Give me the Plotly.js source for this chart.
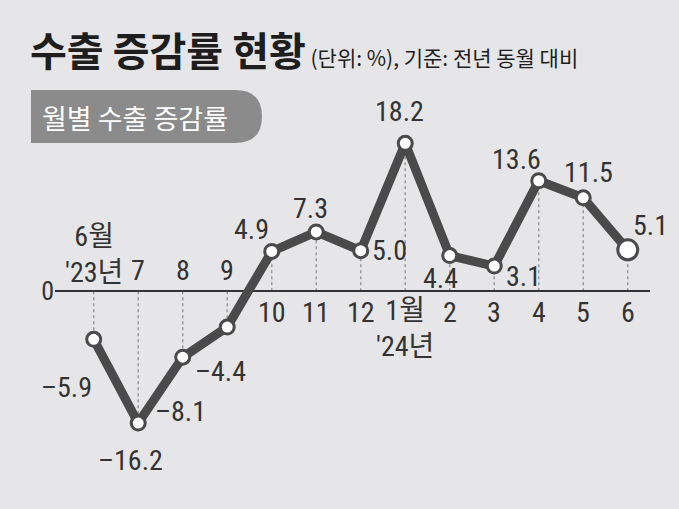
<!DOCTYPE html>
<html><head><meta charset="utf-8">
<script src="https://cdn.plot.ly/plotly-3.0.1.min.js"></script>
<style>html,body{margin:0;padding:0;background:#e6e6e8;}</style>
</head><body>
<div id="chart" style="width:679px;height:509px;"></div>
<script>
// ---- data ----
const months = ["6월", "7", "8", "9", "10", "11", "12", "1월", "2", "3", "4", "5", "6"];
const years  = ["'23년", "", "", "", "", "", "", "'24년", "", "", "", "", ""];
const values = [-5.9, -16.2, -8.1, -4.4, 4.9, 7.3, 5.0, 18.2, 4.4, 3.1, 13.6, 11.5, 5.1];

// ---- label offsets (pixels, layout only) ----
const labelDx = [-27, -8, -2, -7, -20, -6, 29, -6, -9, 29, -22, 5, 23];
const labelDy = [48, 37, 54, 44, -22, -23, 0, -32, 23, 10, -21, -25, -24];

const W = 679, H = 509;
const M = {l: 55, r: 29, t: 97, b: 38};
const PW = W - M.l - M.r, PH = H - M.t - M.b;
const px = x => (x - M.l) / PW;
const py = y => (H - M.b - y) / PH;

const numFont = "Roboto Condensed, Noto Sans CJK KR, sans-serif";
const txtColor = '#333';
const lineColor = '#4a4a4a';

const idx = values.map((_, i) => i);
const fmt = v => (v < 0 ? '\u2013' : '') + Math.abs(v).toFixed(1);

const lineTrace = {
  x: idx, y: values, type: 'scatter', mode: 'lines',
  line: {color: lineColor, width: 9},
  hoverinfo: 'skip', cliponaxis: false
};
const markerTrace = {
  x: idx, y: values, type: 'scatter', mode: 'markers',
  marker: {
    size: idx.map(i => i === values.length - 1 ? 20 : 14),
    color: 'rgb(255,255,255)', opacity: 1,
    line: {color: lineColor, width: 3}
  },
  hoverinfo: 'skip', cliponaxis: false
};

const shapes = values.map((v, i) => ({
  type: 'line', xref: 'x', yref: 'y', x0: i, x1: i, y0: 0, y1: v,
  line: {color: '#9a9a9a', width: 1.5, dash: 'dot'}, layer: 'below'
}));

// rounded pill behind the sub-heading
const pL = 31, pR = 262, pT = 90, pB = 143, rr = 27;
shapes.push({
  type: 'path', xref: 'paper', yref: 'paper', layer: 'below',
  path: `M ${px(pL)} ${py(pT)} L ${px(pR - rr)} ${py(pT)} Q ${px(pR)} ${py(pT)} ${px(pR)} ${py((pT + pB) / 2)} ` +
        `Q ${px(pR)} ${py(pB)} ${px(pR - rr)} ${py(pB)} L ${px(pL)} ${py(pB)} Z`,
  fillcolor: '#8b8b8b', line: {width: 0}
});

const annotations = [];
values.forEach((v, i) => {
  annotations.push({
    x: i, y: v, xref: 'x', yref: 'y', text: fmt(v), showarrow: false,
    xanchor: 'center', yanchor: 'middle', xshift: labelDx[i], yshift: -labelDy[i],
    font: {family: numFont, size: 28, color: txtColor}
  });
  const neg = v < 0;
  let text, shift;
  if (years[i]) {
    text = months[i] + '<br>' + years[i];
    shift = neg ? 37 : -37;
  } else {
    text = months[i];
    shift = neg ? 21 : -21;
  }
  annotations.push({
    x: i, y: 0, xref: 'x', yref: 'y', text: text, showarrow: false,
    xanchor: 'center', yanchor: 'middle', yshift: shift, align: 'center',
    font: {family: numFont, size: 28, color: txtColor}
  });
});

annotations.push({
  xref: 'paper', yref: 'paper', x: px(40), y: py(117), xanchor: 'left', yanchor: 'middle',
  text: '월별 수출 증감률', showarrow: false,
  font: {family: 'Noto Sans CJK KR, sans-serif', size: 27, color: '#ffffff'}
});

const layout = {
  width: W, height: H,
  margin: M,
  paper_bgcolor: '#e6e6e8', plot_bgcolor: '#e6e6e8',
  showlegend: false,
  title: {
    text: "<b>수출 증감률 현황</b><span style='font-size:21px'> (단위: %), 기준: 전년 동월 대비</span>",
    x: 30 / W, xanchor: 'left', y: 1 - 52 / H, yanchor: 'middle',
    font: {family: 'Noto Sans CJK KR, sans-serif', size: 40, color: '#1e1e1e'}
  },
  xaxis: {range: [-0.87, 12.5], showgrid: false, zeroline: false, showticklabels: false, ticks: '', fixedrange: true},
  yaxis: {range: [-22.1, 23.9], showgrid: false, zeroline: true, zerolinecolor: '#333', zerolinewidth: 2,
          tickvals: [0], ticktext: ['0'], ticks: '', showline: false,
          tickfont: {family: numFont, size: 26, color: txtColor}, fixedrange: true},
  shapes: shapes,
  annotations: annotations
};

Plotly.newPlot('chart', [lineTrace, markerTrace], layout, {displayModeBar: false, staticPlot: true});
</script>
</body></html>
